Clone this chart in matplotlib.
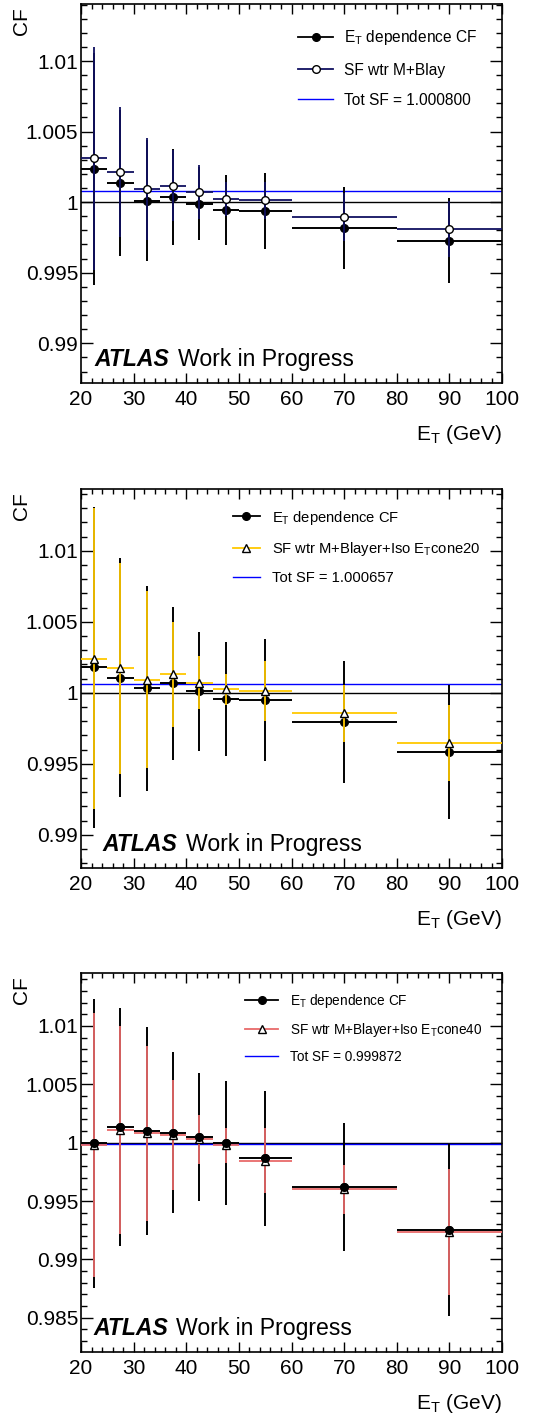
import matplotlib
matplotlib.use('Agg')
import matplotlib.pyplot as plt
from matplotlib.lines import Line2D
from matplotlib.ticker import MultipleLocator, FuncFormatter

plt.rcParams['font.family'] = ['Liberation Sans', 'DejaVu Sans']
plt.rcParams['mathtext.fontset'] = 'custom'
plt.rcParams['mathtext.rm'] = 'Liberation Sans'
plt.rcParams['mathtext.it'] = 'Liberation Sans:italic'
plt.rcParams['mathtext.bf'] = 'Liberation Sans:bold'

# E_T bins (GeV)
et_centers = [22.5, 27.5, 32.5, 37.5, 42.5, 47.5, 55, 70, 90]
et_halfwidths = [2.5, 2.5, 2.5, 2.5, 2.5, 2.5, 5, 10, 10]

# top: SF wrt M+Blay
cf1 = [1.00234, 1.00135, 1.00011, 1.00035, 0.99990, 0.99943, 0.99936, 0.99818, 0.99728]
cf1_err = [0.0082, 0.0052, 0.0043, 0.0034, 0.0026, 0.0025, 0.0027, 0.0029, 0.0030]
sf1 = [1.00312, 1.00215, 1.00092, 1.00116, 1.00071, 1.00021, 1.00014, 0.99898, 0.99809]
sf1_err = [0.0079, 0.0046, 0.0036, 0.0025, 0.0019, 0.0012, 0.0013, 0.0017, 0.0020]
tot1 = 1.000800

# middle: Iso ETcone20
cf2 = [1.00179, 1.00108, 1.00031, 1.00066, 1.00012, 0.99956, 0.99949, 0.99792, 0.99585]
cf2_err = [0.0113, 0.0084, 0.0072, 0.0054, 0.0042, 0.0040, 0.0043, 0.0043, 0.0047]
sf2 = [1.00242, 1.00172, 1.00094, 1.00132, 1.00073, 1.00024, 1.00012, 0.99855, 0.99648]
sf2_err = [0.0106, 0.0074, 0.0062, 0.0037, 0.0019, 0.0011, 0.0021, 0.0020, 0.0027]
tot2 = 1.000657

# bottom: Iso ETcone40
cf3 = [0.99995, 1.00132, 1.00103, 1.00086, 1.00049, 0.99997, 0.99866, 0.99618, 0.99252]
cf3_err = [0.0124, 0.0102, 0.0089, 0.0069, 0.0055, 0.0053, 0.0058, 0.0055, 0.0074]
sf3 = [0.99980, 1.00109, 1.00080, 1.00066, 1.00029, 0.99978, 0.99846, 0.99600, 0.99232]
sf3_err = [0.0113, 0.0089, 0.0075, 0.0047, 0.0021, 0.0015, 0.0028, 0.0021, 0.0054]
tot3 = 0.999872

sf_labels = ['SF wtr M+Blay',
             r'SF wtr M+Blayer+Iso E$_{\mathrm{T}}$cone20',
             r'SF wtr M+Blayer+Iso E$_{\mathrm{T}}$cone40']
ylims = [(0.98721, 1.01406), (0.98769, 1.01438), (0.98209, 1.01457)]

panels = [
    dict(cf=cf1, cf_err=cf1_err, sf=sf1, sf_err=sf1_err, tot=tot1, color='#101060', marker='o',
         bottom=0.7307, leg_xy=(0.5154, 0.935), leg_fs=11.2, hl=2.26, htp=0.71, ls=0.98, atlas_x=0.033,
         dots_on_top=False),
    dict(cf=cf2, cf_err=cf2_err, sf=sf2, sf_err=sf2_err, tot=tot2, color='#ffc800', marker='^',
         bottom=0.3894, leg_xy=(0.361, 0.9475), leg_fs=10.65, hl=1.82, htp=0.81, ls=0.9, atlas_x=0.052,
         dots_on_top=False),
    dict(cf=cf3, cf_err=cf3_err, sf=sf3, sf_err=sf3_err, tot=tot3, color='#e86a6a', marker='^',
         bottom=0.0488, leg_xy=(0.3895, 0.950), leg_fs=9.8, hl=2.43, htp=0.88, ls=0.82, atlas_x=0.029,
         dots_on_top=True),
]

fig = plt.figure(figsize=(5.35, 14.21), dpi=100)

for i, p in enumerate(panels):
    ax = fig.add_axes([0.1514, p['bottom'], 0.787, 0.2667])

    ax.axhline(1.0, color='k', lw=1.0, zorder=2)
    ax.axhline(p['tot'], color='#0000ff', lw=1.0, zorder=2)

    ax.errorbar(et_centers, p['cf'], yerr=p['cf_err'], xerr=et_halfwidths, fmt='o', color='k',
                ms=5.5, lw=1.4, capsize=0, zorder=3)
    ax.errorbar(et_centers, p['sf'], yerr=p['sf_err'], xerr=et_halfwidths, fmt=p['marker'],
                color=p['color'], mfc='white', mec='k', mew=1.0, ms=5.5, lw=1.3, capsize=0, zorder=4)
    if p['dots_on_top']:
        ax.plot(et_centers, p['cf'], 'o', color='k', ms=5.5, zorder=5)

    ax.set_xlim(20, 100)
    ax.set_ylim(*ylims[i])
    ax.xaxis.set_major_locator(MultipleLocator(10))
    ax.xaxis.set_minor_locator(MultipleLocator(2))
    ax.yaxis.set_major_locator(MultipleLocator(0.005))
    ax.yaxis.set_minor_locator(MultipleLocator(0.001))
    ax.yaxis.set_major_formatter(FuncFormatter(lambda v, pos: '{:g}'.format(round(v, 4))))

    ax.tick_params(which='both', direction='in', top=True, right=True, labelsize=15, width=1.0)
    ax.tick_params(axis='x', which='major', length=7, pad=5)
    ax.tick_params(axis='x', which='minor', length=3.6)
    ax.tick_params(axis='y', which='major', length=8.5, pad=2)
    ax.tick_params(axis='y', which='minor', length=4.3)
    for s in ax.spines.values():
        s.set_linewidth(1.2)

    ax.set_xlabel(r'E$_{\mathrm{T}}$ (GeV)', fontsize=15, loc='right')
    ax.xaxis.set_label_coords(1.0, -0.106)
    ax.set_ylabel('CF', fontsize=15, loc='top')
    ax.yaxis.set_label_coords(-0.118, 0.99)

    t = ax.text(p['atlas_x'], 0.045, 'ATLAS', transform=ax.transAxes, fontsize=16.6,
                fontweight='bold', fontstyle='italic', va='baseline')
    ax.annotate('Work in Progress', xy=(1, 0), xycoords=t, xytext=(8, 0),
                textcoords='offset pixels', va='bottom', fontsize=16.6)

    handles = [Line2D([], [], color='k', marker='o', ms=5.5, lw=1.3),
               Line2D([], [], color=p['color'], marker=p['marker'], mfc='white', mec='k', ms=5.5, lw=1.3),
               Line2D([], [], color='#0000ff', lw=1.0)]
    labels = [r'E$_{\mathrm{T}}$ dependence CF', sf_labels[i], 'Tot SF = {:.6f}'.format(p['tot'])]
    ax.legend(handles, labels, loc='upper left', bbox_to_anchor=p['leg_xy'], frameon=False,
              borderpad=0, borderaxespad=0, fontsize=p['leg_fs'], handlelength=p['hl'],
              handletextpad=p['htp'], labelspacing=p['ls'])

fig.savefig('out.png', dpi=100)
